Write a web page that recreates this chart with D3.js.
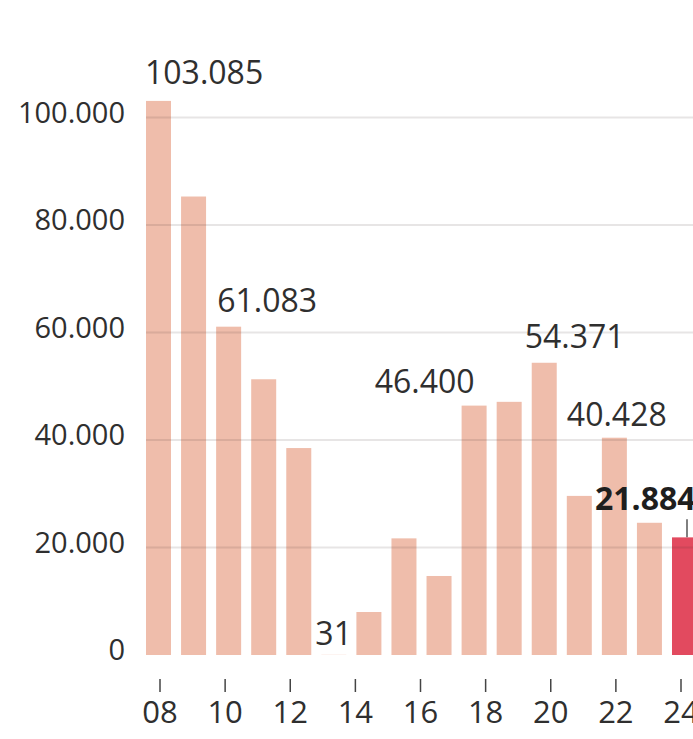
<!DOCTYPE html>
<html>
<head>
<meta charset="utf-8">
<script src="https://cdn.jsdelivr.net/npm/d3@7"></script>
<style>
  html, body { margin: 0; padding: 0; background: #ffffff; }
  svg { display: block; }
  text { font-family: "Open Sans", "Noto Sans", sans-serif; }
</style>
</head>
<body>
<div id="chart"></div>
<script>
// ---- data ----
const categories = ["2008","2009","2010","2011","2012","2013","2014","2015","2016","2017","2018","2019","2020","2021","2022","2023"];
const values = [103085, 85300, 61083, 51300, 38500, 31, 8000, 21700, 14700, 46400, 47100, 54371, 29600, 40428, 24600, 21884];
const highlighted = ["2023"];
const labeledBars = ["2008","2010","2013","2017","2019","2021","2023"];
const yTickValues = [0, 20000, 40000, 60000, 80000, 100000];
const xTickValues = [2008, 2010, 2012, 2014, 2016, 2018, 2020, 2022, 2024];
const xTickLabels = ["08","10","12","14","16","18","20","22","24"];

// ---- drawing ----
const W = 693, H = 739;
const svg = d3.select("#chart").append("svg").attr("width", W).attr("height", H);
svg.append("rect").attr("width", W).attr("height", H).attr("fill", "#ffffff");

const x = d3.scaleBand().domain(categories).range([146, 697]).paddingInner(0.287).paddingOuter(0);
const y = d3.scaleLinear().domain([0, 100000]).range([655, 117.5]);
const xt = d3.scaleLinear().domain([2008, 2024]).range([160, 681]);

const loc = d3.formatLocale({ decimal: ",", thousands: ".", grouping: [3], currency: ["", ""] });
const fmt = loc.format(",");

const data = categories.map((c, i) => ({ c, v: values[i] }));

// bars
svg.append("g").selectAll("rect").data(data).join("rect")
  .attr("x", d => x(d.c))
  .attr("y", d => y(d.v))
  .attr("width", x.bandwidth())
  .attr("height", d => y(0) - y(d.v))
  .attr("fill", d => highlighted.includes(d.c) ? "#e24a5f" : "#efbdab");

// gridlines (over bars)
svg.append("g").selectAll("line").data(yTickValues.filter(v => v > 0)).join("line")
  .attr("x1", 146).attr("x2", W)
  .attr("y1", d => y(d)).attr("y2", d => y(d))
  .attr("stroke", "rgba(60,40,40,0.12)")
  .attr("stroke-width", 2);

// y labels
svg.append("g").selectAll("text").data(yTickValues).join("text")
  .attr("x", 125)
  .attr("y", d => y(d) + 5)
  .attr("text-anchor", "end")
  .attr("font-size", 29)
  .attr("fill", "#2f2f2f")
  .text(d => fmt(d));

// x axis ticks & labels
const xg = svg.append("g");
xg.selectAll("line").data(xTickValues).join("line")
  .attr("x1", d => xt(d)).attr("x2", d => xt(d))
  .attr("y1", 679).attr("y2", 692)
  .attr("stroke", "#444").attr("stroke-width", 1.5);
xg.selectAll("text").data(xTickValues).join("text")
  .attr("x", d => xt(d))
  .attr("y", 723)
  .attr("text-anchor", "middle")
  .attr("font-size", 31)
  .attr("fill", "#2f2f2f")
  .text((d, i) => xTickLabels[i]);

// value labels (hand placed relative to their bar, as in the original)
const layout = {
  "2008": { dx: -1, dy: -17, anchor: "start" },
  "2010": { dx: 1, dy: -15, anchor: "start" },
  "2013": { dx: -6, dy: -10, anchor: "start" },
  "2017": { dx: 13, dy: -13, anchor: "end" },
  "2019": { dx: -7, dy: -15, anchor: "start" },
  "2021": { dx: -35, dy: -12, anchor: "start" },
  "2023": { dx: -77, dy: -27, anchor: "start" }
};
const lab = svg.append("g");
data.filter(d => labeledBars.includes(d.c)).forEach(d => {
  const L = layout[d.c];
  const hi = highlighted.includes(d.c);
  lab.append("text")
    .attr("x", x(d.c) + L.dx)
    .attr("y", y(d.v) + L.dy)
    .attr("text-anchor", L.anchor)
    .attr("font-size", 32)
    .attr("font-weight", hi ? 700 : 400)
    .attr("fill", hi ? "#1e1e1e" : "#2f2f2f")
    .text(fmt(d.v));
  if (hi) {
    lab.append("line")
      .attr("x1", x(d.c) + 15).attr("x2", x(d.c) + 15)
      .attr("y1", y(d.v) - 18).attr("y2", y(d.v))
      .attr("stroke", "#555").attr("stroke-width", 1.5);
  }
});
</script>
</body>
</html>
